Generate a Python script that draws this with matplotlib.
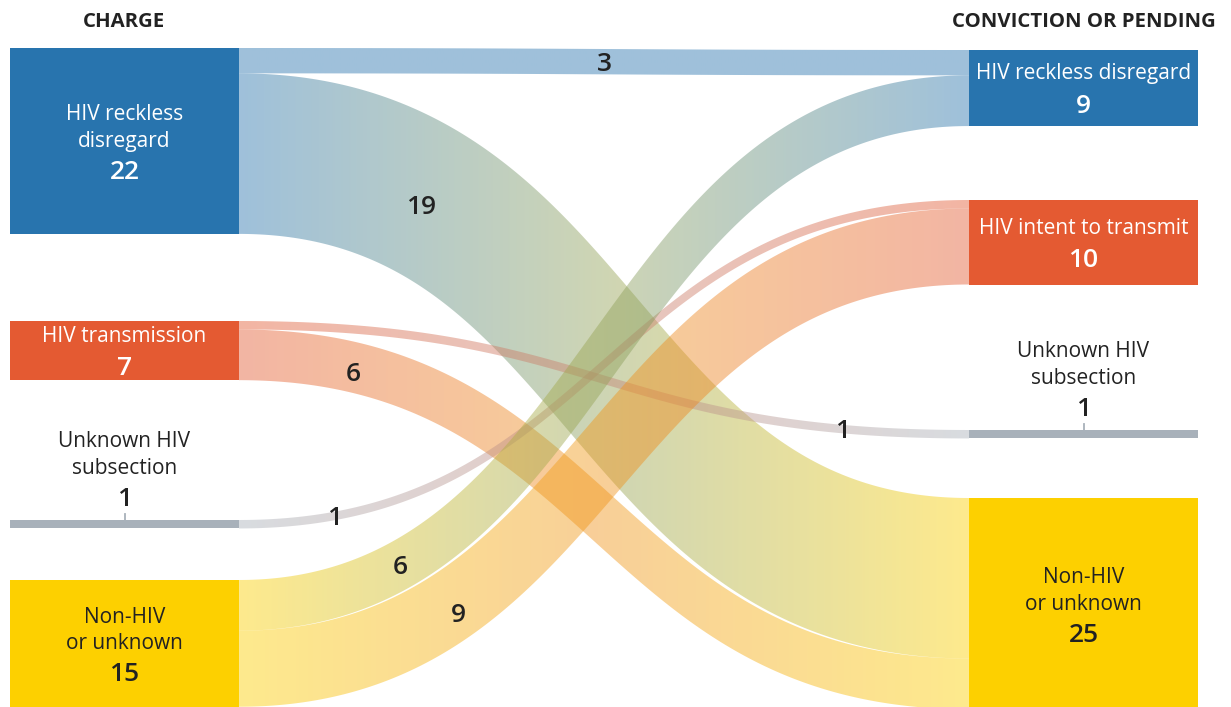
import numpy as np
import matplotlib.pyplot as plt
from matplotlib.patches import Polygon, Rectangle
from matplotlib.colors import to_rgb

plt.rcParams['font.family'] = ['Open Sans', 'DejaVu Sans']

# data
left_names = [["HIV reckless", "disregard"], ["HIV transmission"],
              ["Unknown HIV", "subsection"], ["Non-HIV", "or unknown"]]
right_names = [["HIV reckless disregard"], ["HIV intent to transmit"],
               ["Unknown HIV", "subsection"], ["Non-HIV", "or unknown"]]
left_totals = [22, 7, 1, 15]
right_totals = [9, 10, 1, 25]
link_src = [0, 0, 1, 1, 2, 3, 3]
link_tgt = [0, 3, 2, 3, 1, 0, 1]
link_val = [3, 19, 1, 6, 1, 6, 9]
node_colors = ['#2874ae', '#e45a32', '#a8b1ba', '#fdd000']
text_on_node = ['white', 'white', '#222222', '#222222']

# layout (pixels)
K = 8.45
XL0, XL1 = 10, 239
XR0, XR1 = 969, 1198
left_top = [48, 321, 520, 580]
right_top = [50, 200, 430, 498]
lab_xfrac = [0.5, 0.25, 0.827, 0.156, 0.1315, 0.2205, 0.30]
lab_dy = [0, 6, -1, 4.5, 0, 0, 11]
TAPER = 0.35
DARK = '#222222'

fig = plt.figure(figsize=(12.31, 7.07), dpi=100)
ax = fig.add_axes([0, 0, 1, 1])


def centre(ya, yb, n=300):
    t = np.linspace(0, 1, n)
    xm = (XL1 + XR0) / 2
    x = (1-t)**3*XL1 + 3*(1-t)**2*t*xm + 3*(1-t)*t**2*xm + t**3*XR0
    y = (1-t)**3*ya + 3*(1-t)**2*t*ya + 3*(1-t)*t**2*yb + t**3*yb
    dx = 3*(1-t)**2*(xm - XL1) + 3*t**2*(XR0 - xm)
    dy = 6*(1-t)*t*(yb - ya)
    nrm = np.hypot(dx, dy)
    return x, y, -dy/nrm, dx/nrm


# stack links on the nodes
lo = list(left_top)
ro = list(right_top)
y0 = {}
y1 = {}
for i in sorted(range(len(link_val)), key=lambda i: (link_src[i], link_tgt[i])):
    y0[i] = lo[link_src[i]] + link_val[i]*K/2
    lo[link_src[i]] += link_val[i]*K
for i in sorted(range(len(link_val)), key=lambda i: (link_tgt[i], link_src[i])):
    y1[i] = ro[link_tgt[i]] + link_val[i]*K/2
    ro[link_tgt[i]] += link_val[i]*K

g = np.linspace(0, 1, 256)
for i in range(len(link_val)):
    w = link_val[i]*K
    x, y, nx, ny = centre(y0[i], y1[i])
    hw = w/2 * ny**TAPER  # ny = cos of the slope angle
    top = np.column_stack([x + nx*hw, y + ny*hw])
    bot = np.column_stack([x - nx*hw, y - ny*hw])
    poly = Polygon(np.vstack([top, bot[::-1]]), closed=True, fc='none', ec='none')
    ax.add_patch(poly)
    c0 = np.array(to_rgb(node_colors[link_src[i]]))
    c1 = np.array(to_rgb(node_colors[link_tgt[i]]))
    img = np.zeros((1, 256, 4))
    img[0, :, :3] = c0*(1-g)[:, None] + c1*g[:, None]
    img[0, :, 3] = 0.45
    im = ax.imshow(img, extent=(XL1, XR0, 720, -10), aspect='auto',
                   interpolation='bilinear', zorder=1)
    im.set_clip_path(poly)
    # flow label
    lx = XL1 + lab_xfrac[i]*(XR0 - XL1)
    ly = np.interp(lx, x, y) + lab_dy[i]
    ax.text(lx, ly + 9.5, str(link_val[i]), ha='center', va='baseline',
            fontsize=19, fontweight='semibold', color=DARK, zorder=5)


def node(x0, x1, top, total, lines, ci):
    h = total*K
    xc = (x0 + x1)/2
    ax.add_patch(Rectangle((x0, top), x1 - x0, h, fc=node_colors[ci], ec='none', zorder=3))
    if h < 20:
        fg = DARK
        ys = [top - 80, top - 53]
        yn = top - 23
        ax.plot([xc, xc], [top - 6, top], color=node_colors[ci], lw=1.3, zorder=3)
    else:
        fg = text_on_node[ci]
        yc = top + h/2
        if len(lines) == 2:
            ys = [yc - 28, yc - 1.5]
            yn = yc + 28.5
        else:
            ys = [yc - 16]
            yn = yc + 15
    for s, yy in zip(lines, ys):
        ax.text(xc, yy + 7.4, s, ha='center', va='baseline', fontsize=15, color=fg, zorder=4)
    ax.text(xc, yn + 9.5, str(total), ha='center', va='baseline', fontsize=19,
            fontweight='semibold', color=fg, zorder=4)


for k in range(4):
    node(XL0, XL1, left_top[k], left_totals[k], left_names[k], k)
    node(XR0, XR1, right_top[k], right_totals[k], right_names[k], k)

ax.text((XL0 + XL1)/2, 27, "CHARGE", ha='center', va='baseline',
        fontsize=14.7, fontweight='bold', color=DARK)
ax.text((XR0 + XR1)/2, 27, "CONVICTION OR PENDING", ha='center', va='baseline',
        fontsize=14.7, fontweight='bold', color=DARK)

ax.set_xlim(0, 1231)
ax.set_ylim(707, 0)
ax.axis('off')
fig.savefig('out.png', dpi=100)
